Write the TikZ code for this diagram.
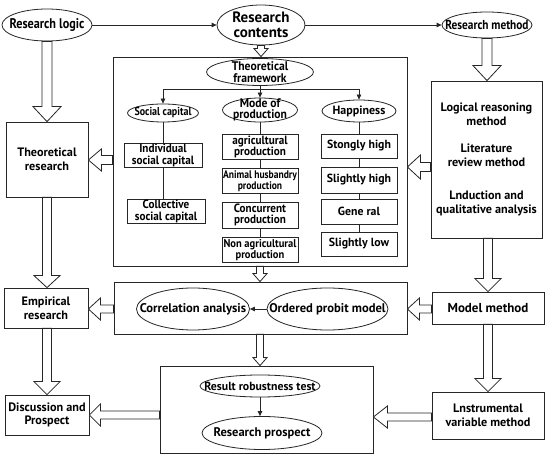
\documentclass[tikz,border=0pt]{standalone}
\usepackage{fontspec}
\setmainfont{PT Sans}
\newfontfamily\cnd{PT Sans}[FakeStretch=0.87]
\newfontfamily\snd{PT Sans}[FakeStretch=0.93]
\usetikzlibrary{calc,shapes.geometric,arrows.meta}
\newcommand\fsz[2]{\fontsize{#1pt}{#2pt}\selectfont\bfseries}
\begin{document}
\begin{tikzpicture}[x=1pt,y=-1pt,
  ln/.style={draw=black!85, line width=0.8pt},
  oval/.style n args={4}{ln, ellipse, minimum width=#1, minimum height=#2, inner sep=0pt,
     label={[font=#3, align=center, inner sep=0pt]center:{#4}}},
  box/.style n args={3}{ln, rectangle, minimum width=#1, minimum height=#2, inner sep=1pt, align=center, font=#3},
  tip/.style={-{Triangle[length=5pt,width=4.5pt]}},
  hdown/.style args={#1/#2/#3}{ln, fill=white, to path={let \p1=(\tikztostart), \p2=(\tikztotarget) in
     (\x1-#1pt,\y1) -- (\x1-#1pt,\y2+#3pt) -- (\x1-#2pt,\y2+#3pt) -- (\x1,\y2) -- (\x1+#2pt,\y2+#3pt) -- (\x1+#1pt,\y2+#3pt) -- (\x1+#1pt,\y1) -- cycle}},
  hleft/.style args={#1/#2/#3}{ln, fill=white, to path={let \p1=(\tikztostart), \p2=(\tikztotarget) in
     (\x1,\y1+#1pt) -- (\x2+#3pt,\y1+#1pt) -- (\x2+#3pt,\y1+#2pt) -- (\x2,\y1) -- (\x2+#3pt,\y1-#2pt) -- (\x2+#3pt,\y1-#1pt) -- (\x1,\y1-#1pt) -- cycle}},
]
\useasboundingbox[fill=white] (0,0) rectangle (550,457);

% top row
\node[oval={90}{32}{\cnd\fsz{14}{14}}{Research logic}] (logic) at (47,25) {};
\node[oval={88}{40}{\fsz{15}{14.5}}{Research\\contents}] (contents) at (261,25) {};
\node[oval={90}{26}{\cnd\fsz{13}{13}}{Research method}] (method) at (487,25) {};
\draw[ln,tip] (logic.east) -- (contents.west);
\draw[ln,tip] (contents.east) -- (method.west);

% theoretical framework frame
\node[ln, rectangle, minimum width=294, minimum height=209, inner sep=0pt] (frame) at (260,161.5) {};
\node[oval={107}{27}{\snd\fsz{12.5}{12}}{Theoretical\\framework}] (fw) at (260,72) {};
\node[oval={71}{18}{\cnd\fsz{11.5}{12}}{Social capital}] (soc) at (163,113) {};
\node[oval={75}{24}{\snd\fsz{12.5}{11.5}}{Mode of\\production}] (mode) at (260,110) {};
\node[oval={74}{22}{\fsz{12}{12}}{Happiness}] (hap) at (359,111) {};
\coordinate (split) at (260,89);
\draw[ln] (fw.south) -- (split);
\draw[ln,tip] (split) -- (mode.north);
\draw[ln,tip] (split) -| (soc.north);
\draw[ln,tip] (split) -| (hap.north);

\node[box={78}{23}{\snd\fsz{12}{11.5}}] (ind) at (163,155.5) {Individual\\social capital};
\node[box={78}{23}{\snd\fsz{12}{11.5}}] (coll) at (166,211.5) {Collective\\social capital};
\draw[ln] (soc.south) -- (ind.north);
\draw[ln] (ind.south) -- (ind.south |- coll.north);

\node[box={76}{25}{\snd\fsz{12}{11.5}}] (agri) at (260,147) {agricultural\\production};
\node[box={76}{25}{\cnd\fsz{11}{11}}] (anim) at (260,181) {Animal husbandry\\production};
\node[box={76}{26}{\snd\fsz{12}{11.5}}] (conc) at (260,215) {Concurrent\\production};
\node[box={76}{25}{\snd\fsz{11.3}{10.5}}] (nonag) at (260,250) {Non agricultural\\production};
\draw[ln] (mode.south) -- (agri.north);
\draw[ln] (agri.south) -- (anim.north);
\draw[ln] (anim.south) -- (conc.north);
\draw[ln] (conc.south) -- (nonag.north);

\node[box={76}{24}{\fsz{11.8}{12}}] (stong) at (359,146) {Stongly high};
\node[box={76}{26}{\fsz{11.8}{12}}] (shigh) at (359,180) {Slightly high};
\node[box={76}{25}{\fsz{11.8}{12}}] (gen) at (359,211.5) {Gene ral};
\node[box={76}{24}{\fsz{11.8}{12}}] (slow) at (359,244) {Slightly low};
\draw[ln] (hap.south) -- (stong.north);
\draw[ln] (stong.south) -- (shigh.north);
\draw[ln] (shigh.south) -- (gen.north);
\draw[ln] (gen.south) -- (slow.north);

% method box
\node[box={111}{157}{\fsz{12.2}{13.5}}] (mbox) at (486.5,159.5)
  {Logical reasoning\\method\\[14pt]Literature\\review method\\[20pt]Lnduction and\\qualitative analysis};

% left column
\node[box={82}{75}{\fsz{12.2}{13.5}}] (theo) at (47,159.5) {Theoretical\\research};
\node[box={84}{40}{\fsz{12.2}{13.5}}] (emp) at (46,308) {Empirical\\research};
\node[box={84}{40}{\fsz{12.2}{13.5}}] (disc) at (47,415) {Discussion and\\Prospect};

% middle box
\node[ln, rectangle, minimum width=293, minimum height=52, inner sep=0pt] (mid) at (260.5,308) {};
\node[oval={113}{42}{\fsz{12.6}{12}}{Correlation analysis}] (corr) at (193,309) {};
\node[oval={121}{42}{\fsz{12.6}{12}}{Ordered probit model}] (ord) at (327.5,309) {};
\draw[ln,tip] (ord.west) -- (corr.east);

% right lower
\node[box={112}{32}{\fsz{13}{13}}] (model) at (488,308) {Model method};
\node[box={112}{47}{\fsz{12.2}{13.5}}] (instr) at (488,415.5) {Lnstrumental\\variable method};

% bottom box
\node[ln, rectangle, minimum width=213, minimum height=87, inner sep=0pt] (bot) at (266.5,409.5) {};
\node[oval={120}{22}{\fsz{11.8}{12}}{Result robustness test}] (rob) at (260,386) {};
\node[oval={120}{33}{\fsz{12.5}{12}}{Research prospect}] (pros) at (262,433) {};
\draw[ln,tip] (rob.south) -- (rob.south |- pros.north);

% hollow arrows
\coordinate (y160) at (0,160);
\coordinate (y167) at (0,167);
\coordinate (y309) at (0,309);
\coordinate (y415) at (0,415);
\coordinate (y417) at (0,417);
\draw[hdown=5/14/15] (logic.south) to (theo.north);
\draw[hdown=5/14/15] (method.south) to (mbox.north);
\draw[hdown=3.5/7/8] (contents.south) to (frame.north);
\draw[hleft=4.5/11/13] (frame.west |- y160) to (theo.east |- y160);
\draw[hleft=4.5/12/13] (mbox.west |- y167) to (frame.east |- y167);
\draw[hdown=4.5/13/12] (theo.south) to (emp.north -| theo.south);
\draw[hleft=4/11/12] (mid.west |- y309) to (emp.east |- y309);
\draw[hleft=4/11/12] (model.west |- y309) to (mid.east |- y309);
\draw[hdown=4.5/13/13] (mbox.south -| model.north) to (model.north);
\draw[hdown=4.5/13/13] (model.south) to (instr.north);
\draw[hdown=4.5/13/13] (emp.south -| disc.north) to (disc.north);
\draw[hdown=3.5/7/8] (frame.south) to (mid.north -| frame.south);
\draw[hdown=3.5/7/8] (mid.south -| rob.north) to (bot.north -| rob.north);
\draw[hleft=4/11/11] (bot.west |- y415) to (disc.east |- y415);
\draw[hleft=4/11/14] (instr.west |- y417) to (bot.east |- y417);
\end{tikzpicture}
\end{document}
